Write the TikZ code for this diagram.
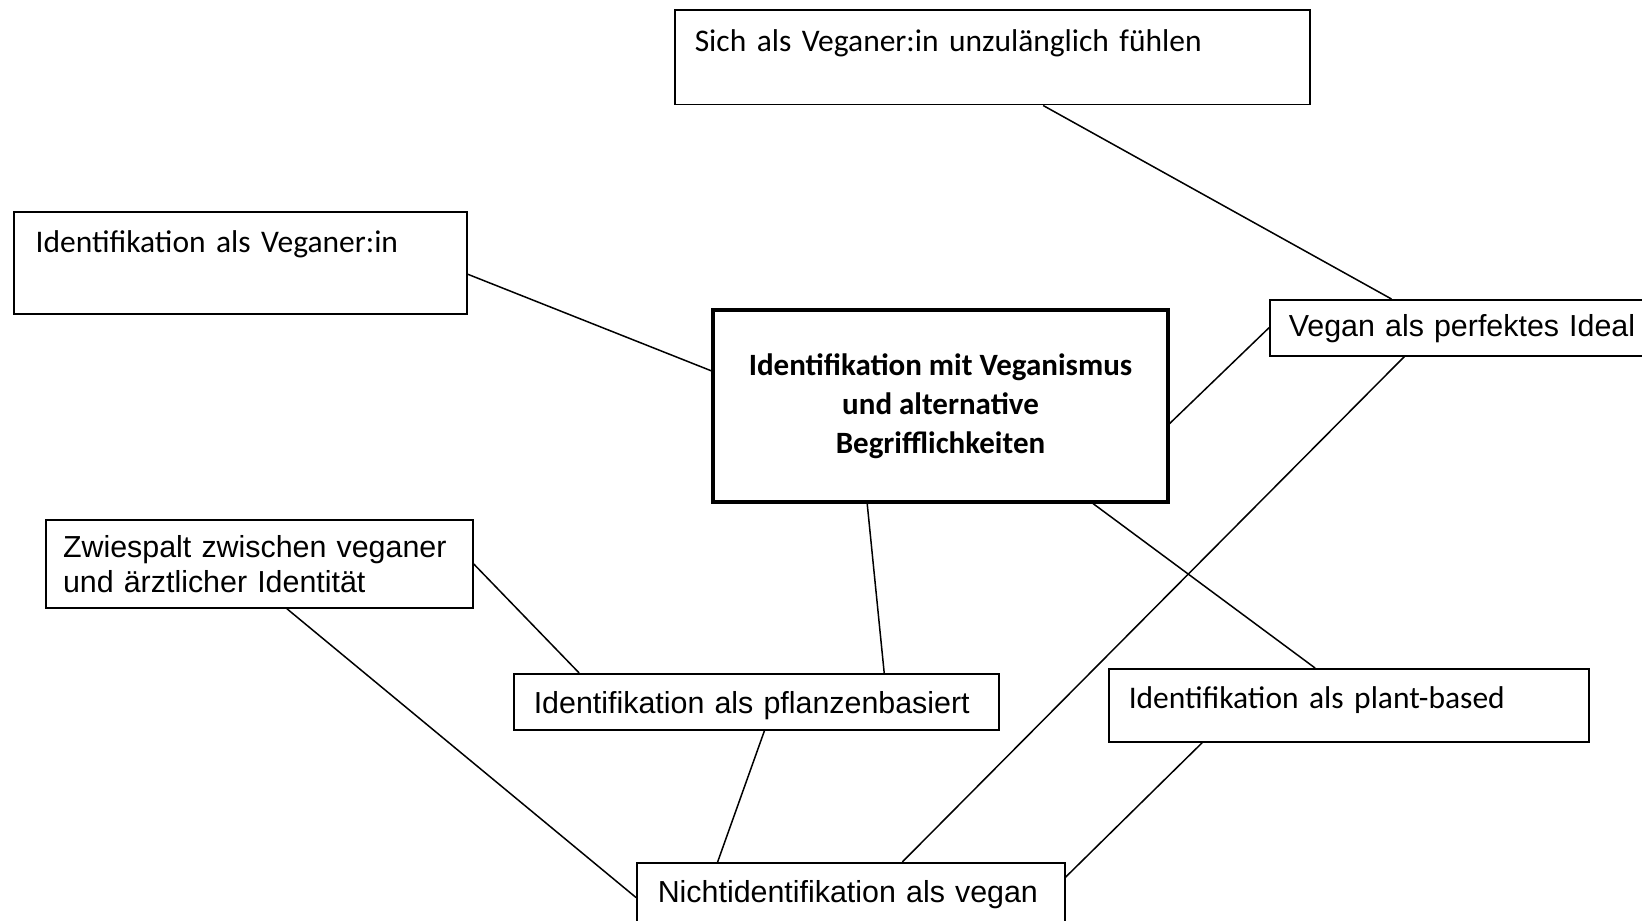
\documentclass[tikz,border=0pt]{standalone}
\usepackage{fontspec}
\newfontfamily\calibri{Carlito}
\newfontfamily\arial{Liberation Sans}
\usetikzlibrary{calc}

\begin{document}
\begin{tikzpicture}[x=0.5pt,y=-0.5pt,line width=0.75pt,
    box/.style={draw,anchor=north west,inner ysep=0pt,align=left},
    calbox/.style={box,font=\calibri\fontsize{15.75}{19}\selectfont},
    arbox/.style={box,font=\arial\fontsize{15.2}{17.5}\selectfont},
    main/.style={draw,line width=1.6pt,align=center,inner sep=0pt,
        font=\calibri\bfseries\fontsize{15.5}{19.5}\selectfont}
]
\useasboundingbox (0,0) rectangle (1642,920);
\clip (0,0) rectangle (1642,920);

\node[calbox,inner xsep=10pt,text width=297.5pt,text height=20.75pt,text depth=26.5pt] (top) at (674,9.5) {Sich als Veganer:in unzulänglich fühlen};
\node[calbox,inner xsep=11pt,text width=204.5pt,text height=20.5pt,text depth=30.5pt] (vegin) at (13,211) {Identifikation als Veganer:in};
\node[main,minimum width=227.5pt,minimum height=96pt] (central) at (940.5,406) {Identifikation mit Veganismus\\und alternative\\Begrifflichkeiten};
\node[arbox,inner xsep=9.5pt,text width=176.5pt,text height=18.5pt,text depth=9.5pt] (ideal) at (1269,299) {Vegan als perfektes Ideal};
\node[arbox,anchor=center,inner xsep=8.5pt,text width=196.5pt,minimum height=44pt] (zwie) at (259.5,564) {Zwiespalt zwischen veganer\\und ärztlicher Identität};
\node[arbox,inner xsep=10pt,text width=222.5pt,text height=20pt,text depth=8pt] (pflanz) at (513,673) {Identifikation als pflanzenbasiert};
\node[calbox,inner xsep=10pt,text width=220pt,text height=20pt,text depth=16.5pt] (plant) at (1108,668) {Identifikation als plant-based};
\node[arbox,inner xsep=10.5pt,text width=193pt,text height=20pt,text depth=21.5pt] (nicht) at (636,862) {Nichtidentifikation als vegan};

\draw ($(top.south west)!0.58!(top.south east)$) -- ($(ideal.north west)!0.312!(ideal.north east)$);
\draw ($(vegin.north east)!0.61!(vegin.south east)$) -- ($(central.north west)!0.32!(central.south west)$);
\draw ($(central.north east)!0.59!(central.south east)$) -- (ideal.west);
\draw ($(central.south west)!0.34!(central.south east)$) -- ($(pflanz.north west)!0.763!(pflanz.north east)$);
\draw ($(central.south west)!0.833!(central.south east)$) -- ($(plant.north west)!0.43!(plant.north east)$);
\draw (zwie.east) -- ($(pflanz.north west)!0.136!(pflanz.north east)$);
\draw ($(zwie.south west)!0.564!(zwie.south east)$) -- ($(nicht.north west)!0.42!(nicht.south west)$);
\draw ($(pflanz.south west)!0.517!(pflanz.south east)$) -- ($(nicht.north west)!0.19!(nicht.north east)$);
\draw ($(ideal.south west)!0.345!(ideal.south east)$) -- ($(nicht.north west)!0.62!(nicht.north east)$);
\draw ($(plant.south west)!0.196!(plant.south east)$) -- ($(nicht.north east)!0.18!(nicht.south east)$);
\end{tikzpicture}
\end{document}
